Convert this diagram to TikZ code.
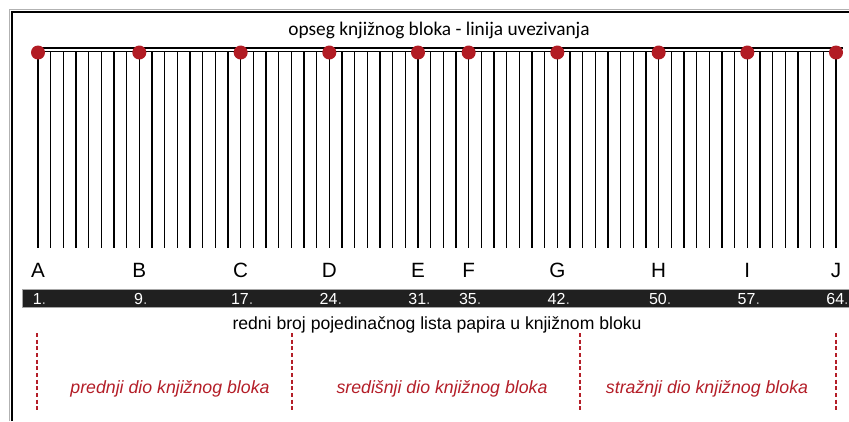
\documentclass[tikz,border=0pt]{standalone}
\usepackage{fontspec}
\setmainfont{Liberation Sans}
\newfontfamily\calib{Carlito}
\definecolor{dotred}{RGB}{178,28,36}
\definecolor{txtred}{RGB}{180,30,40}
\definecolor{bardark}{RGB}{32,32,32}
\begin{document}
\begin{tikzpicture}[x=0.75pt,y=-0.75pt,
  sheetline/.style={line width=1.1pt,black},
  binddot/.style={circle,fill=dotred,inner sep=0pt,minimum size=10.5pt},
  letterlbl/.style={font=\fontsize{15.5}{18}\selectfont,inner sep=0pt,anchor=base},
  numlbl/.style={font=\fontsize{12}{14}\selectfont,text=white,inner sep=0pt,anchor=base},
  partlbl/.style={font=\fontsize{13.3}{16}\selectfont\itshape,text=txtred,inner sep=0pt},
  divider/.style={txtred,line width=1.5pt,dash pattern=on 3pt off 2pt}]
\useasboundingbox (0,0) rectangle (849,421);
\fill[white] (0,0) rectangle (849,421);
% frame
\draw[gray!60,line width=0.75pt] (9.5,421) -- (9.5,9.5) -- (849,9.5);
\draw[black,line width=1.4pt] (12,421) -- (12,12) -- (849,12);
% title
\node[font=\calib\fontsize{14.5}{17}\selectfont,inner sep=0pt] (title) at (439,30) {opseg knjižnog bloka - linija uvezivanja};
% binding double line
\draw[line width=1.5pt] (38,48.3) -- (843,48.3);
\draw[line width=1pt] (38,51.8) -- (843,51.8);
% sheets
\foreach \n in {1,...,64}{
  \draw[sheetline] ({38+(\n-1)*12.6667},52) -- ++(0,196);
}
% number bar
\draw[gray!70,fill=bardark,line width=0.75pt] (22.7,289.5) rectangle (851,307);
% dots, letters, numbers
\foreach \n/\L in {1/A,9/B,17/C,24/D,31/E,35/F,42/G,50/H,57/I,64/J}{
  \node[binddot] (d\L) at ({38+(\n-1)*12.6667},52.5) {};
  \node[letterlbl] (l\L) at ({38+(\n-1)*12.6667},277) {\L};
  \node[numlbl] (n\L) at ({39.5+(\n-1)*12.6667},304) {\n{\color{gray!60}.}};
}
% bottom caption
\node[font=\fontsize{13.2}{16}\selectfont,inner sep=0pt] (caption) at (437,325) {redni broj pojedinačnog lista papira u knjižnom bloku};
% dividers
\coordinate (v1t) at (37,333);  \coordinate (v1b) at (37,410);
\coordinate (v2t) at (292,333); \coordinate (v2b) at (292,410);
\coordinate (v3t) at (580,333); \coordinate (v3b) at (580,410);
\coordinate (v4t) at (836,333); \coordinate (v4b) at (836,410);
\draw[divider] (v1t) -- (v1b);
\draw[divider] (v2t) -- (v2b);
\draw[divider] (v3t) -- (v3b);
\draw[divider] (v4t) -- (v4b);
% part labels
\node[partlbl] (front) at (170,389) {prednji dio knjižnog bloka};
\node[partlbl] (middle) at (442,389) {središnji dio knjižnog bloka};
\node[partlbl] (back) at (707,389) {stražnji dio knjižnog bloka};
\end{tikzpicture}
\end{document}
